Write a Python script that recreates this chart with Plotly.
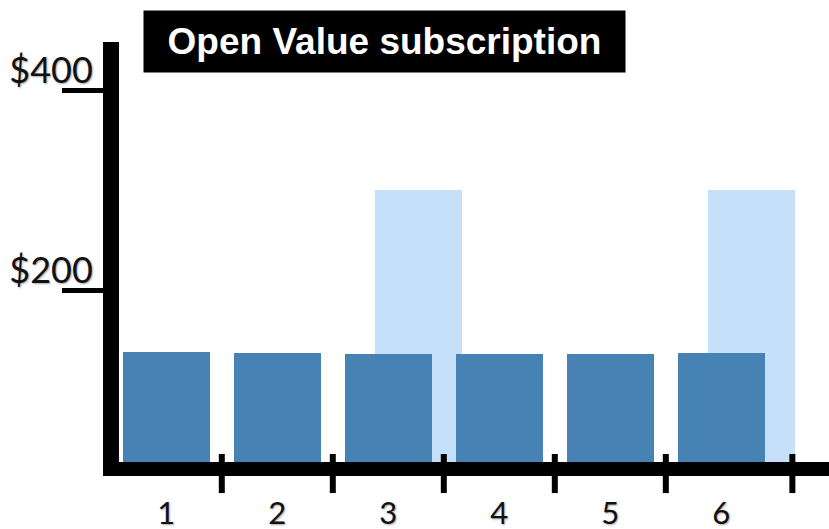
import plotly.graph_objects as go

# ---- data ----
categories = [1, 2, 3, 4, 5, 6]
category_labels = ["1", "2", "3", "4", "5", "6"]
base_values = [138, 137, 136, 136, 136, 137]          # dark blue bars ($)
high_categories = [3, 6]
high_values = [300, 300]                              # light blue bars ($)
y_tick_values = [200, 400]
y_tick_labels = ["$200", "$400"]
boundary_ticks = [1.5, 2.5, 3.5, 4.5, 5.5, 6.64]
title_text = "Open Value subscription"

DARK = "#4682B4"
LIGHT = "#C7E0F9"
LABEL_FONT = "Lato, Roboto, sans-serif"
SHADOW = "1px 1px 2px rgba(0,0,0,0.35)"

fig = go.Figure()
fig.add_trace(go.Bar(
    x=high_categories, y=high_values, width=0.79, offset=-0.122,
    marker=dict(color=LIGHT, line=dict(width=0)), hoverinfo="skip",
))
fig.add_trace(go.Bar(
    x=categories, y=base_values, width=0.784,
    marker=dict(color=DARK, line=dict(width=0)), hoverinfo="skip",
))

# tick marks straddling the x axis at category boundaries
for b in boundary_ticks:
    fig.add_shape(type="line", xref="x", yref="paper", x0=b, x1=b,
                  y0=0.019, y1=-0.074, line=dict(color="black", width=6),
                  layer="above")

fig.add_annotation(
    xref="paper", yref="paper", x=0.0338, y=1.076, xanchor="left", yanchor="top",
    text="<b>" + title_text + "</b>", showarrow=False,
    width=469, height=49, bgcolor="black", align="center", valign="middle",
    borderpad=6,
    font=dict(family="Liberation Sans, Arial", size=37, color="white"),
)

fig.update_layout(
    template="none",
    width=829, height=529,
    margin=dict(l=119, r=0, t=42, b=67, autoexpand=False),
    paper_bgcolor="white", plot_bgcolor="white",
    barmode="overlay", bargap=0, showlegend=False,
    xaxis=dict(
        range=[0.574, 6.970], tickvals=categories, ticktext=category_labels,
        ticks="", showgrid=False, zeroline=False, automargin=False,
        showline=True, linecolor="black", linewidth=14,
        tickfont=dict(family=LABEL_FONT, size=31, color="#111", shadow=SHADOW),
        ticklabelstandoff=11, fixedrange=True,
    ),
    yaxis=dict(
        range=[28, 448], tickvals=y_tick_values, ticktext=y_tick_labels,
        ticks="outside", ticklen=41, tickwidth=5, tickcolor="black",
        showgrid=False, zeroline=False, automargin=False,
        showline=True, linecolor="black", linewidth=16,
        tickfont=dict(family=LABEL_FONT, size=36, color="#111", shadow=SHADOW),
        ticklabelstandoff=-38, ticklabelshift=-20, fixedrange=True,
    ),
)

fig.write_html("out.html", config={"displayModeBar": False},
               post_script="document.body.style.margin='0';")
